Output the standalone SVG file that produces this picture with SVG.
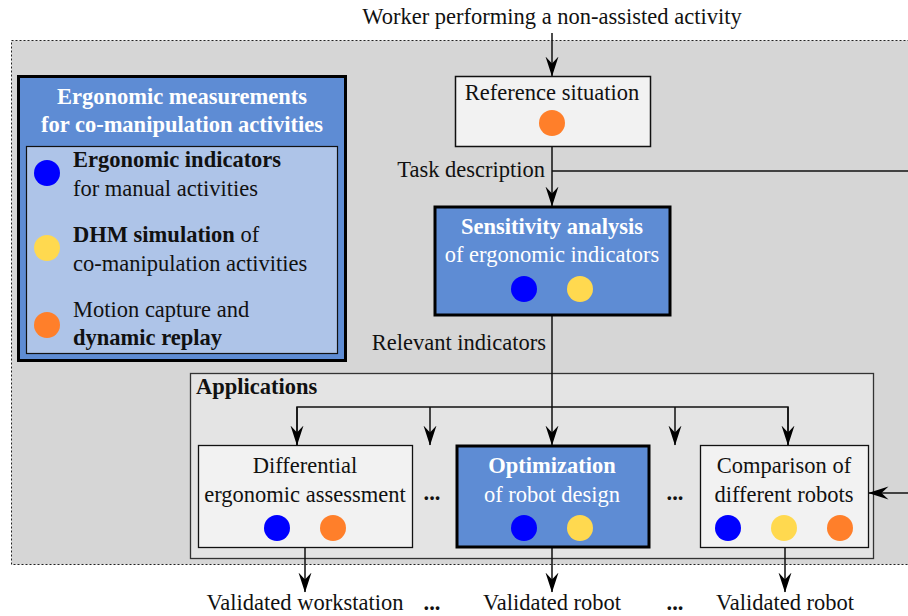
<svg xmlns="http://www.w3.org/2000/svg" width="908" height="616" viewBox="0 0 908 616">
<style>
text{font-family:"Liberation Serif","Times New Roman",serif;font-size:22.5px;fill:#111}
.c{text-anchor:middle}
.b{font-weight:bold}
.w{fill:#fff}
.ln{stroke:#111;stroke-width:1.5;fill:none}
.cb{fill:#0000ff}.cy{fill:#ffd94f}.co{fill:#ff7f2a}
</style>
<defs>
<marker id="ah" viewBox="0 0 20 14" refX="19.5" refY="7" markerWidth="20" markerHeight="14" orient="auto" markerUnits="userSpaceOnUse">
<path d="M0,0.5 L20,7 L0,13.5 L7,7 z" fill="#000"/>
</marker>
</defs>
<rect width="908" height="616" fill="#fff"/>
<rect id="frame" x="11.5" y="40.5" width="910" height="524" fill="#d6d6d6" stroke="#222" stroke-width="1" stroke-dasharray="2,2"/>
<text class="c" x="552" y="24">Worker performing a non-assisted activity</text>

<g id="legend">
<rect x="18.5" y="76.5" width="327" height="284" fill="#5e8cd4" stroke="#000" stroke-width="3"/>
<text class="c b w" x="182" y="104">Ergonomic measurements</text>
<text class="c b w" x="182" y="132">for co-manipulation activities</text>
<rect x="26.5" y="146.5" width="311" height="207" fill="#aec4e8" stroke="#111" stroke-width="1.2"/>
<circle class="cb" cx="47" cy="173" r="13"/>
<text x="73" y="167"><tspan class="b">Ergonomic indicators</tspan></text>
<text x="73" y="196">for manual activities</text>
<circle class="cy" cx="47" cy="248" r="13"/>
<text x="73" y="242"><tspan class="b">DHM simulation</tspan> of</text>
<text x="73" y="271">co-manipulation activities</text>
<circle class="co" cx="47" cy="325" r="13"/>
<text x="73" y="317">Motion capture and</text>
<text class="b" x="73" y="345">dynamic replay</text>
</g>

<g id="apps">
<rect x="190.5" y="373.5" width="683" height="185" fill="#e4e4e4" stroke="#333" stroke-width="1.3"/>
<text class="b" x="196" y="394">Applications</text>
<text class="b c" x="432" y="500">...</text>
<text class="b c" x="675" y="500">...</text>
</g>

<g id="connectors">
<line class="ln" x1="552" y1="33" x2="552" y2="76" marker-end="url(#ah)"/>
<line class="ln" x1="552" y1="146" x2="552" y2="206" marker-end="url(#ah)"/>
<polyline class="ln" points="552,171 910,171"/>
<line class="ln" x1="552" y1="316" x2="552" y2="445" marker-end="url(#ah)"/>
<polyline class="ln" points="297,445 297,407 788,407 788,445"/>
<line class="ln" x1="297" y1="407" x2="297" y2="445" marker-end="url(#ah)"/>
<line class="ln" x1="788" y1="407" x2="788" y2="445" marker-end="url(#ah)"/>
<line class="ln" x1="430" y1="407" x2="430" y2="445" marker-end="url(#ah)"/>
<line class="ln" x1="675" y1="407" x2="675" y2="445" marker-end="url(#ah)"/>
<line class="ln" x1="910" y1="493" x2="869" y2="493" marker-end="url(#ah)"/>
<line class="ln" x1="305" y1="548" x2="305" y2="592" marker-end="url(#ah)"/>
<line class="ln" x1="552" y1="548" x2="552" y2="592" marker-end="url(#ah)"/>
<line class="ln" x1="785" y1="548" x2="785" y2="592" marker-end="url(#ah)"/>
<text x="545" y="177" text-anchor="end">Task description</text>
<text x="546" y="350" text-anchor="end">Relevant indicators</text>
</g>

<g id="reference">
<rect x="455.5" y="76.5" width="195" height="70" fill="#f2f2f2" stroke="#111" stroke-width="1.5"/>
<text class="c" x="552" y="100">Reference situation</text>
<circle class="co" cx="552" cy="123" r="13"/>
</g>

<g id="sensitivity">
<rect x="435" y="207" width="235" height="108" fill="#5e8cd4" stroke="#000" stroke-width="3"/>
<text class="c b w" x="552" y="234">Sensitivity analysis</text>
<text class="c w" x="552" y="262">of ergonomic indicators</text>
<circle class="cb" cx="524" cy="289" r="13"/>
<circle class="cy" cx="580" cy="289" r="13"/>
</g>

<g id="differential">
<rect x="198.5" y="445.5" width="214" height="102" fill="#f2f2f2" stroke="#111" stroke-width="1.3"/>
<text class="c" x="305" y="473">Differential</text>
<text class="c" x="305" y="502">ergonomic assessment</text>
<circle class="cb" cx="277" cy="528" r="13"/>
<circle class="co" cx="333" cy="528" r="13"/>
</g>

<g id="optimization">
<rect x="457" y="446" width="192" height="101" fill="#5e8cd4" stroke="#000" stroke-width="3"/>
<text class="c b w" x="552" y="473">Optimization</text>
<text class="c w" x="552" y="502">of robot design</text>
<circle class="cb" cx="524" cy="528" r="13"/>
<circle class="cy" cx="580" cy="528" r="13"/>
</g>

<g id="comparison">
<rect x="700.5" y="445.5" width="168" height="102" fill="#f2f2f2" stroke="#111" stroke-width="1.3"/>
<text class="c" x="784" y="473">Comparison of</text>
<text class="c" x="784" y="502">different robots</text>
<circle class="cb" cx="728" cy="528" r="13"/>
<circle class="cy" cx="784" cy="528" r="13"/>
<circle class="co" cx="840" cy="528" r="13"/>
</g>

<g id="outputs">
<text class="c" x="305" y="610">Validated workstation</text>
<text class="c b" x="432" y="610">...</text>
<text class="c" x="552" y="610">Validated robot</text>
<text class="c b" x="675" y="610">...</text>
<text class="c" x="785" y="610">Validated robot</text>
</g>
</svg>
